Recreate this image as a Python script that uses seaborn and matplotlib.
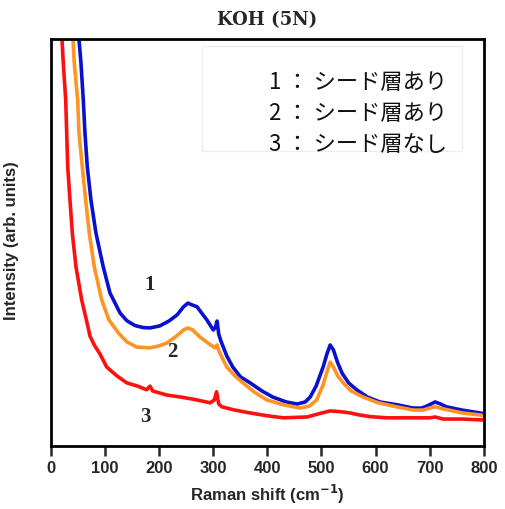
import numpy as np
import pandas as pd
import matplotlib
matplotlib.use("Agg")
import matplotlib.pyplot as plt
import seaborn as sns
from matplotlib.patches import Rectangle

# Raman shift (cm-1) and intensity (arb. units, 0-100 scale)
x_blue = [50, 51.7, 55.4, 59.7, 62.8, 67.1, 73.9, 83.1, 96.6, 109, 127.5, 140, 155, 170, 183, 201, 218,
          233, 245, 253, 262, 270, 280, 288, 300, 304, 307, 310, 314, 325, 336, 350, 368, 390, 410, 435,
          455, 470, 479, 490, 503, 510, 516, 522, 530, 538, 550, 565, 585, 608, 640, 669, 685, 695, 710,
          720, 731, 760, 793, 800]
y_blue = [102.2, 100.0, 94.1, 85.0, 76.9, 68.6, 60.4, 52.3, 44.0, 37.6, 32.7, 30.8, 29.6, 29.1, 29.0, 29.5,
          30.7, 32.2, 34.2, 35.1, 34.6, 34.2, 32.4, 31.0, 28.5, 29.2, 30.7, 27.5, 25.8, 22.1, 19.4, 17.0,
          15.5, 13.5, 12.0, 10.8, 10.3, 10.8, 12.0, 14.7, 19.4, 22.6, 24.8, 23.6, 20.4, 17.9, 15.5, 13.8,
          12.0, 10.8, 10.1, 9.3, 9.3, 9.8, 10.8, 10.3, 9.6, 8.8, 8.1, 7.9]

x_orange = [40, 40.6, 43, 49.3, 51.7, 57.8, 64.1, 70.8, 80, 93.7, 107, 124.3, 140, 158.3, 183, 200, 214,
            232, 245, 253, 262, 275, 290, 303, 307, 311, 325, 340, 355, 375, 399, 430, 460, 478, 491, 503,
            510, 516, 522, 530, 540, 555, 577, 605, 639, 670, 688, 700, 710, 725, 760, 793, 800]
y_orange = [102.2, 100.0, 94.1, 85.0, 76.9, 68.6, 60.4, 52.3, 44.0, 35.9, 31.0, 27.8, 25.6, 24.3, 24.1,
            24.6, 25.3, 27.0, 28.5, 29.0, 28.5, 26.8, 25.3, 24.1, 24.8, 23.1, 19.4, 17.2, 15.5, 13.3, 11.3,
            10.1, 9.3, 9.8, 11.3, 15.0, 18.2, 20.6, 19.4, 17.2, 15.5, 13.5, 12.0, 10.6, 9.6, 8.8, 8.8, 9.3,
            9.6, 9.1, 8.1, 7.6, 7.4]

x_red = [19, 20.3, 22.7, 27.2, 29, 30.9, 35.1, 39.4, 46.2, 56.7, 65, 72.1, 80, 90.5, 102.9, 122, 139.9,
         160, 176.8, 183, 188, 214, 240, 262, 294, 302, 306, 310, 316, 340, 368, 400, 429, 473, 495, 516,
         535, 553, 570, 590, 620, 669, 700, 710, 725, 760, 793, 800]
y_red = [102.2, 100.0, 94.1, 85.0, 76.9, 68.6, 60.4, 52.3, 44.0, 35.9, 31.2, 27.0, 24.8, 22.6, 19.4, 17.2,
         15.5, 14.7, 13.8, 14.7, 13.5, 12.5, 12.0, 11.5, 10.6, 11.3, 13.3, 10.3, 9.6, 8.8, 8.1, 7.4, 6.9,
         7.1, 7.9, 8.6, 8.4, 8.1, 7.6, 7.2, 6.9, 6.9, 6.9, 7.1, 6.6, 6.6, 6.4, 6.4]

series_names = ["1", "2", "3"]
legend_lines = ["1 ： シード層あり", "2 ： シード層あり", "3 ： シード層なし"]
x_ticks = [0, 100, 200, 300, 400, 500, 600, 700, 800]

df = pd.concat([
    pd.DataFrame({"x": x_blue, "y": y_blue, "s": "1"}),
    pd.DataFrame({"x": x_orange, "y": y_orange, "s": "2"}),
    pd.DataFrame({"x": x_red, "y": y_red, "s": "3"}),
], ignore_index=True)

sns.set_style("white")
plt.rcParams['font.family'] = ['Liberation Sans', 'DejaVu Sans']

fig = plt.figure(figsize=(5.05, 5.09), dpi=100)
ax = fig.add_axes([0.101, 0.124, 0.857, 0.799])

palette = {"1": "#0a10d0", "2": "#ff9324", "3": "#ff1010"}
sns.lineplot(data=df, x="x", y="y", hue="s", palette=palette, estimator=None,
             linewidth=2.6, legend=False, ax=ax, sort=False)

ax.set_xlim(0, 800)
ax.set_ylim(0, 100)
ax.set_xticks(x_ticks)
ax.set_xticklabels([str(t) for t in x_ticks], fontsize=12, fontweight="bold")
ax.set_yticks([])
ax.tick_params(axis="x", direction="out", length=7, width=1.8, pad=4, bottom=True)
for sp in ax.spines.values():
    sp.set_linewidth(2.0)
    sp.set_color("black")

ax.set_xlabel("Raman shift (cm$^{\\mathbf{-1}}$)", fontsize=12, fontweight="bold", labelpad=5)
ax.set_ylabel("Intensity (arb. units)", fontsize=12, fontweight="bold")
ax.yaxis.set_label_coords(-0.074, 0.504)
ax.set_title("KOH (5N)", fontsize=13, fontweight="bold", family="DejaVu Serif", pad=10)

# curve labels
ax.text(183, 39.6, "1", fontsize=15, fontweight="bold", family="Liberation Serif", ha="center", va="center")
ax.text(224, 23.1, "2", fontsize=15, fontweight="bold", family="Liberation Serif", ha="center", va="center")
ax.text(174, 7.1, "3", fontsize=15, fontweight="bold", family="Liberation Serif", ha="center", va="center")

# legend-like text box
ax.add_patch(Rectangle((279, 72.5), 480, 25.8, fill=False, edgecolor="#eeeeee", linewidth=1.0,
                       transform=ax.transData, zorder=1))
for i, t in enumerate(legend_lines):
    ax.text(403, 89.4 - i * 7.6, t, fontsize=16, family=["Noto Sans CJK JP", "DejaVu Sans"],
            ha="left", va="center", color="#111111")

fig.savefig("out.png", dpi=100)
